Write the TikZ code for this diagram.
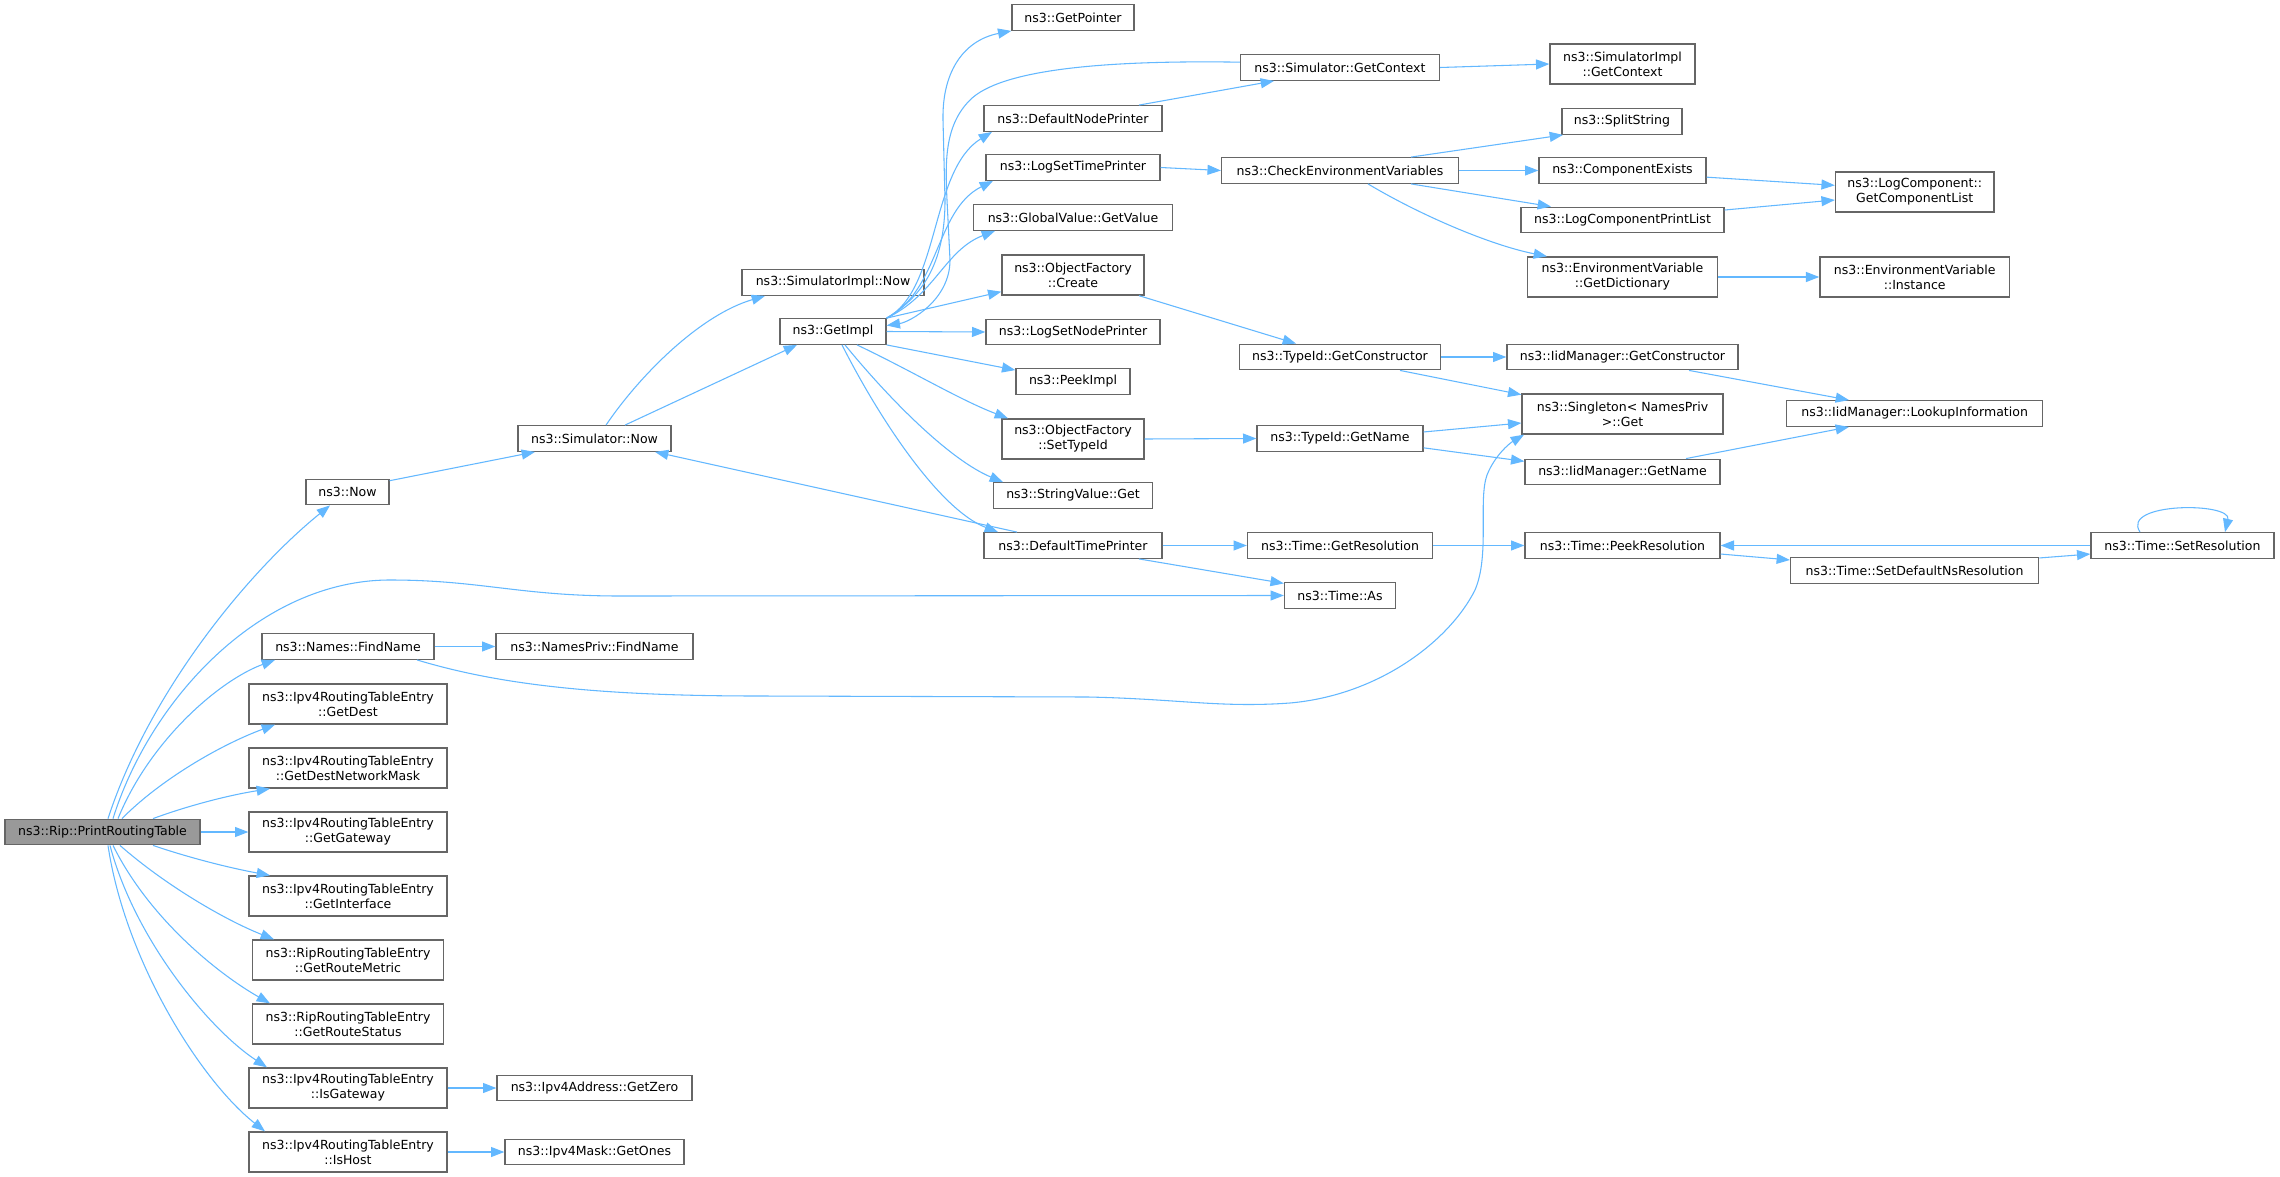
\documentclass[tikz,border=0pt]{standalone}
\usepackage{fontspec}
\setmainfont{DejaVu Sans}
\usetikzlibrary{arrows.meta}
\definecolor{edgeblue}{HTML}{63B8FF}
\definecolor{boxline}{HTML}{666666}
\definecolor{rootfill}{HTML}{999999}
\begin{document}
\begin{tikzpicture}[x=0.75pt,y=-0.75pt,
  fn/.style={draw=boxline, fill=white, line width=1pt, inner sep=0pt, align=center,
     font=\fontsize{9.4}{11.25}\selectfont, minimum height=19.125pt},
  fnn/.style={fn, minimum height=30pt},
  bw/.style={minimum width=#1*0.75pt},
  root/.style={fill=rootfill},
  call/.style={draw=edgeblue, line width=0.8pt, -{Triangle[length=10pt,width=7.5pt]}}]
\path[fill=white,use as bounding box] (0,0) rectangle (2280,1177);

% column 0
\node[fn,root,bw=195] (rip) at (102.5,832) {ns3::Rip::PrintRoutingTable};
% column 1
\node[fn,bw=83] (now) at (347.5,492) {ns3::Now};
\node[fn,bw=172] (names) at (348,646.5) {ns3::Names::FindName};
\node[fnn,bw=198] (getdest) at (348,704) {ns3::Ipv4RoutingTableEntry\\::GetDest};
\node[fnn,bw=198] (getmask) at (348,768) {ns3::Ipv4RoutingTableEntry\\::GetDestNetworkMask};
\node[fnn,bw=198] (getgw) at (348,832) {ns3::Ipv4RoutingTableEntry\\::GetGateway};
\node[fnn,bw=198] (getif) at (348,896) {ns3::Ipv4RoutingTableEntry\\::GetInterface};
\node[fnn,bw=190.5] (metric) at (348,960) {ns3::RipRoutingTableEntry\\::GetRouteMetric};
\node[fnn,bw=190.5] (status) at (348,1024) {ns3::RipRoutingTableEntry\\::GetRouteStatus};
\node[fnn,bw=198] (isgw) at (348,1088) {ns3::Ipv4RoutingTableEntry\\::IsGateway};
\node[fnn,bw=198] (ishost) at (348,1152) {ns3::Ipv4RoutingTableEntry\\::IsHost};
% column 2
\node[fn,bw=153] (simnow) at (594.5,438.5) {ns3::Simulator::Now};
\node[fn,bw=197] (npfind) at (594.5,646.5) {ns3::NamesPriv::FindName};
\node[fn,bw=195] (zero) at (594.5,1088) {ns3::Ipv4Address::GetZero};
\node[fn,bw=179] (ones) at (594.5,1152) {ns3::Ipv4Mask::GetOnes};
% column 3
\node[fn,bw=182] (simimplnow) at (833,282.5) {ns3::SimulatorImpl::Now};
\node[fn,bw=106] (getimpl) at (833,331.5) {ns3::GetImpl};
% column 4
\node[fn,bw=122] (getptr) at (1073,17.5) {ns3::GetPointer};
\node[fn,bw=178] (dnp) at (1073,118.5) {ns3::DefaultNodePrinter};
\node[fn,bw=174] (lstp) at (1073,167.5) {ns3::LogSetTimePrinter};
\node[fn,bw=199] (gvgv) at (1073,217.5) {ns3::GlobalValue::GetValue};
\node[fnn,bw=142] (ofcreate) at (1073,275) {ns3::ObjectFactory\\::Create};
\node[fn,bw=174] (lsnp) at (1073,332) {ns3::LogSetNodePrinter};
\node[fn,bw=114] (peek) at (1073,381.5) {ns3::PeekImpl};
\node[fnn,bw=142] (ofset) at (1073,439) {ns3::ObjectFactory\\::SetTypeId};
\node[fn,bw=159] (svget) at (1073,495.5) {ns3::StringValue::Get};
\node[fn,bw=178] (dtp) at (1073,545.5) {ns3::DefaultTimePrinter};
% column 5
\node[fn,bw=199] (simctx) at (1340,67.5) {ns3::Simulator::GetContext};
\node[fn,bw=237] (checkenv) at (1340,170.5) {ns3::CheckEnvironmentVariables};
\node[fn,bw=201] (tidctor) at (1340,357) {ns3::TypeId::GetConstructor};
\node[fn,bw=166] (tidname) at (1340,438.5) {ns3::TypeId::GetName};
\node[fn,bw=185] (getres) at (1340,545.5) {ns3::Time::GetResolution};
\node[fn,bw=111] (timeas) at (1340,595.5) {ns3::Time::As};
% column 6
\node[fnn,bw=145] (implctx) at (1622.5,64) {ns3::SimulatorImpl\\::GetContext};
\node[fn,bw=120] (split) at (1622,121.5) {ns3::SplitString};
\node[fn,bw=167] (compex) at (1622.5,170.5) {ns3::ComponentExists};
\node[fn,bw=203] (lcpl) at (1622.5,220) {ns3::LogComponentPrintList};
\node[fnn,bw=190] (getdict) at (1622.5,277) {ns3::EnvironmentVariable\\::GetDictionary};
\node[fn,bw=231] (iidctor) at (1622.5,357) {ns3::IidManager::GetConstructor};
\node[fnn,bw=201] (singleton) at (1622.5,414) {ns3::Singleton< NamesPriv\\>::Get};
\node[fn,bw=195] (iidname) at (1622.5,472) {ns3::IidManager::GetName};
\node[fn,bw=195] (peekres) at (1622.5,545.5) {ns3::Time::PeekResolution};
% column 7
\node[fnn,bw=158.5] (lcgcl) at (1914.7,192) {ns3::LogComponent::\\GetComponentList};
\node[fnn,bw=189.5] (envinst) at (1914.7,277) {ns3::EnvironmentVariable\\::Instance};
\node[fn,bw=256] (lookup) at (1914.6,413.5) {ns3::IidManager::LookupInformation};
\node[fn,bw=248] (setdef) at (1914.6,570.5) {ns3::Time::SetDefaultNsResolution};
% column 8
\node[fn,bw=183] (setres) at (2182.5,545.5) {ns3::Time::SetResolution};

% edges from the root
\draw[call] (108,0 |- rip.north) .. controls (150,690) and (250,570) .. (330,0 |- now.south);
\draw[call] (113,0 |- rip.north) .. controls (150,700) and (260,580) .. (390,580)
   .. controls (480,580) and (520,596) .. (620,596) -- (timeas.west);
\draw[call] (118,0 |- rip.north) .. controls (150,740) and (220,680) .. (275,0 |- names.south);
\draw[call] (122,0 |- rip.north) .. controls (160,780) and (220,745) .. (275,0 |- getdest.south);
\draw[call] (153,0 |- rip.north) .. controls (190,805) and (230,795) .. (270,0 |- getmask.south);
\draw[call] (rip.east) -- (getgw.west);
\draw[call] (153,0 |- rip.south) .. controls (190,858) and (230,868) .. (270,0 |- getif.north);
\draw[call] (120,0 |- rip.south) .. controls (165,885) and (225,920) .. (274,0 |- metric.north);
\draw[call] (113,0 |- rip.south) .. controls (150,920) and (220,975) .. (270,0 |- status.north);
\draw[call] (110,0 |- rip.south) .. controls (135,940) and (210,1030) .. (267,0 |- isgw.north);
\draw[call] (108,0 |- rip.south) .. controls (125,960) and (200,1080) .. (265,0 |- ishost.north);

% left part
\draw[call] (now.15) -- (535,0 |- simnow.south);
\draw[call] (606,0 |- simnow.north) .. controls (640,375) and (700,315) .. (765,0 |- simimplnow.south);
\draw[call] (625,0 |- simnow.north) -- (797,0 |- getimpl.south);
\draw[call] (1017,0 |- dtp.north) -- (655,0 |- simnow.south);
\draw[call] (names.east) -- (npfind.west);
\draw[call] (417,0 |- names.south) .. controls (500,685) and (600,696) .. (760,696) -- (1088,697)
   .. controls (1180,699) and (1220,708) .. (1290,703)
   .. controls (1380,695) and (1450,640) .. (1475,590)
   .. controls (1490,555) and (1478,500) .. (1487,475)
   .. controls (1495,455) and (1510,443) .. (1524,0 |- singleton.south);
\draw[call] (isgw.east) -- (zero.west);
\draw[call] (ishost.east) -- (ones.west);

% GetImpl hub
\draw[call] (getimpl.north east) .. controls (925,295) and (945,260) .. (945,200) -- (943,120)
   .. controls (942,70) and (965,40) .. (getptr.south west);
\draw[call] ([yshift=4pt]simctx.west) .. controls (1100,60) and (1000,70) .. (970,100)
   .. controls (945,125) and (945,160) .. (947,200) -- (950,260)
   .. controls (950,300) and (910,322) .. ([yshift=4.5pt]getimpl.east);
\draw[call] (getimpl.north east) .. controls (940,290) and (930,170) .. (992,0 |- dnp.south);
\draw[call] (getimpl.north east) .. controls (940,290) and (935,210) .. (993,0 |- lstp.south);
\draw[call] (getimpl.north east) .. controls (935,295) and (945,250) .. (995,0 |- gvgv.south);
\draw[call] (getimpl.north east) -- ([yshift=3pt]ofcreate.south west);
\draw[call] (getimpl.east) -- (lsnp.west);
\draw[call] (getimpl.south east) -- ([yshift=-1.5pt]peek.north west);
\draw[call] (857,0 |- getimpl.south) .. controls (910,370) and (960,400) .. (1008,0 |- ofset.north);
\draw[call] (845,0 |- getimpl.south) .. controls (890,400) and (950,460) .. (1003,0 |- svget.north);
\draw[call] (842,0 |- getimpl.south) .. controls (880,420) and (940,510) .. (998,0 |- dtp.north);

% middle/right part
\draw[call] (simctx.east) -- (implctx.west);
\draw[call] (1139,0 |- dnp.north) -- (1274,0 |- simctx.south);
\draw[call] (lstp.east) -- (checkenv.west);
\draw[call] (1411,0 |- checkenv.north) -- (1563,0 |- split.south);
\draw[call] (checkenv.east) -- (compex.west);
\draw[call] (1411,0 |- checkenv.south) -- (1551,0 |- lcpl.north);
\draw[call] (1368,0 |- checkenv.south) .. controls (1420,215) and (1490,245) .. (1547,0 |- getdict.north);
\draw[call] ([yshift=-5pt]compex.east) -- ([yshift=5pt]lcgcl.west);
\draw[call] ([yshift=7.5pt]lcpl.east) -- ([yshift=-6pt]lcgcl.west);
\draw[call] (getdict.east) -- (envinst.west);
\draw[call] (1139,0 |- ofcreate.south) -- (1296,0 |- tidctor.north);
\draw[call] (tidctor.east) -- (iidctor.west);
\draw[call] (1400,0 |- tidctor.south) -- ([yshift=-1pt]singleton.north west);
\draw[call] (1689,0 |- iidctor.south) -- (1849,0 |- lookup.north);
\draw[call] (ofset.east) -- (tidname.west);
\draw[call] ([yshift=4.9pt]tidname.east) -- ([yshift=-6.75pt]singleton.west);
\draw[call] ([yshift=-7pt]tidname.east) -- ([yshift=8pt]iidname.west);
\draw[call] (1686,0 |- iidname.north) -- (1849,0 |- lookup.south);
\draw[call] (dtp.east) -- (getres.west);
\draw[call] (1139,0 |- dtp.south) -- ([yshift=-1pt]timeas.north west);
\draw[call] (getres.east) -- (peekres.west);
\draw[call] ([yshift=-6.4pt]peekres.east) -- ([yshift=7.9pt]setdef.west);
\draw[call] ([yshift=9.4pt]setdef.east) -- ([yshift=-6.4pt]setres.west);
\draw[call] (setres.west) -- (peekres.east);
\draw[call] (2140,0 |- setres.north) .. controls (2120,502) and (2232,502) .. (2225,0 |- setres.north);
\end{tikzpicture}
\end{document}
